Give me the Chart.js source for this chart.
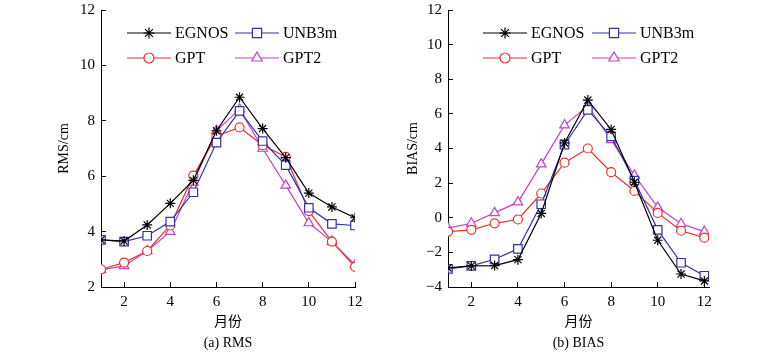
<!DOCTYPE html>
<html>
<head>
<meta charset="utf-8">
<script src="https://cdn.jsdelivr.net/npm/chart.js@4/dist/chart.umd.min.js"></script>
<style>
  body { margin: 0; background: #fff; width: 776px; height: 361px; position: relative; overflow: hidden; }
  canvas { position: absolute; top: 0; }
</style>
</head>
<body>
<canvas id="rmsChart" width="340" height="361" style="left:56px"></canvas>
<canvas id="biasChart" width="371" height="361" style="left:405px"></canvas>
<script>
// Months on the x axis
const months = [1, 2, 3, 4, 5, 6, 7, 8, 9, 10, 11, 12];
const monthTicks = [2, 4, 6, 8, 10, 12];
const seriesNames = ['EGNOS', 'UNB3m', 'GPT', 'GPT2'];

// (a) RMS, cm
const rmsEgnos = [3.70, 3.66, 4.24, 5.02, 5.85, 7.64, 8.85, 7.72, 6.67, 5.39, 4.89, 4.50];
const rmsUnb3m = [3.70, 3.64, 3.85, 4.36, 5.42, 7.21, 8.36, 7.27, 6.40, 4.86, 4.28, 4.22];
const rmsGpt = [2.64, 2.88, 3.30, 4.22, 6.02, 7.45, 7.76, 7.12, 6.70, 4.74, 3.64, 2.73];
const rmsGpt2 = [2.62, 2.76, 3.30, 4.00, 5.78, 7.64, 8.42, 7.00, 5.67, 4.31, 3.64, 2.80];

// (b) BIAS, cm
const biasEgnos = [-2.90, -2.78, -2.76, -2.42, 0.25, 4.32, 6.80, 5.10, 2.05, -1.30, -3.25, -3.65];
const biasUnb3m = [-2.95, -2.78, -2.40, -1.80, 0.78, 4.22, 6.23, 4.70, 2.15, -0.70, -2.60, -3.35];
const biasGpt = [-0.80, -0.70, -0.32, -0.10, 1.40, 3.18, 4.00, 2.63, 1.55, 0.28, -0.75, -1.15];
const biasGpt2 = [-0.60, -0.32, 0.28, 0.90, 3.10, 5.35, 6.45, 4.50, 2.45, 0.60, -0.35, -0.80];

const colors = ['#000000', '#3333a8', '#e8332a', '#c442c4'];
const styles = ['star', 'rect', 'circle', 'triangle'];
const radii = [5, 6, 4.5, 5.5];

Chart.defaults.font.family = '"Liberation Serif", "Times New Roman", serif';
Chart.defaults.color = '#000';

// legend drawn inside the plot area, two columns
const inlineLegend = {
  id: 'inlineLegend',
  afterDraw(chart, args, opts) {
    const ctx = chart.ctx;
    const left = chart.chartArea.left;
    ctx.save();
    chart.data.datasets.forEach((ds, i) => {
      const x0 = left + opts.cols[i % 2];
      const y = opts.rows[Math.floor(i / 2)];
      const x1 = x0 + opts.lineLen;
      ctx.strokeStyle = ds.borderColor;
      ctx.lineWidth = 1.2;
      ctx.beginPath();
      ctx.moveTo(x0, y);
      ctx.lineTo(x1, y);
      ctx.stroke();
      ctx.fillStyle = '#fff';
      Chart.helpers.drawPoint(ctx, { pointStyle: ds.pointStyle, radius: ds.pointRadius + 0.5, borderWidth: 1.2, rotation: 0 }, (x0 + x1) / 2, y);
      ctx.fillStyle = '#000';
      ctx.font = '16px "Liberation Serif"';
      ctx.textBaseline = 'middle';
      ctx.textAlign = 'left';
      ctx.fillText(ds.label, x1 + 4, y + 1);
    });
    ctx.restore();
  }
};

function makeDatasets(lists) {
  return lists.map((vals, i) => ({
    label: seriesNames[i],
    data: months.map((m, j) => ({ x: m, y: vals[j] })),
    borderColor: colors[i],
    backgroundColor: '#fff',
    borderWidth: 1.2,
    pointStyle: styles[i],
    pointRadius: radii[i],
    pointBorderWidth: 1.2,
    pointBackgroundColor: '#fff',
    tension: 0
  }));
}

function makeChart(id, lists, cfg) {
  const axisStyle = {
    border: { display: true, color: '#000', width: 1 },
    grid: { drawOnChartArea: false, color: '#000', tickLength: -5 }
  };
  return new Chart(document.getElementById(id), {
    type: 'line',
    data: { datasets: makeDatasets(lists) },
    plugins: [inlineLegend],
    options: {
      responsive: false,
      animation: false,
      layout: { autoPadding: false, padding: { left: 0, top: 10, right: cfg.padRight, bottom: 0 } },
      plugins: {
        legend: { display: false },
        tooltip: { enabled: false },
        inlineLegend: { cols: cfg.legendCols, rows: [33, 58], lineLen: 44 }
      },
      scales: {
        x: {
          type: 'linear',
          min: 1,
          max: cfg.xMax,
          ...axisStyle,
          afterBuildTicks: s => { s.ticks = monthTicks.map(v => ({ value: v })); },
          afterFit: s => { s.height = 74; s.paddingLeft = 0; s.paddingRight = 0; },
          ticks: { padding: 11, maxRotation: 0, autoSkip: false, font: { size: 15 } },
          title: {
            display: true,
            text: ['月份', cfg.caption],
            font: { family: '"Liberation Serif", "Noto Sans CJK SC"', size: 14, lineHeight: 1.5 },
            padding: { top: 0, bottom: 7 }
          }
        },
        y: {
          min: cfg.yMin,
          max: 12,
          ...axisStyle,
          afterFit: s => { s.width = cfg.yWidth; s.paddingTop = 0; s.paddingBottom = 0; },
          ticks: {
            stepSize: 2,
            padding: 11,
            font: { size: 15 },
            callback: v => String(v).replace('-', '\u2212')
          },
          title: {
            display: true,
            text: cfg.yTitle,
            font: { size: 14 },
            padding: 0
          }
        }
      }
    }
  });
}

makeChart('rmsChart', [rmsEgnos, rmsUnb3m, rmsGpt, rmsGpt2], {
  yMin: 2, xMax: 12, yTitle: 'RMS/cm', caption: '(a) RMS',
  yWidth: 45, padRight: 41, legendCols: [26, 134]
});

makeChart('biasChart', [biasEgnos, biasUnb3m, biasGpt, biasGpt2], {
  yMin: -4, xMax: 12.2, yTitle: 'BIAS/cm', caption: '(b) BIAS',
  yWidth: 43, padRight: 67, legendCols: [35, 144]
});
</script>
</body>
</html>
